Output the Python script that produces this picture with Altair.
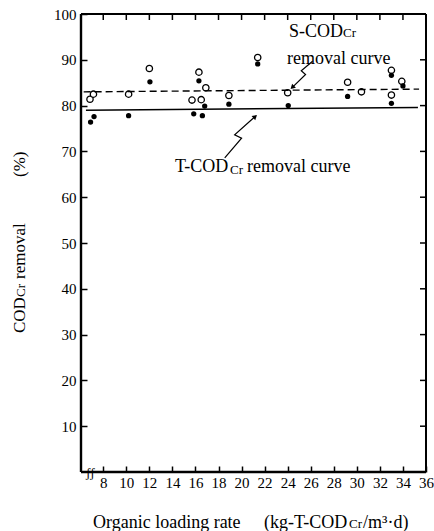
import altair as alt
import pandas as pd

# ---- data ----
s_x = [6.85, 7.15, 10.2, 12.0, 15.7, 16.3, 16.5, 16.9, 18.9, 21.4, 24.0, 29.2, 30.4, 33.0, 33.0, 33.9]
s_y = [81.4, 82.5, 82.5, 88.1, 81.2, 87.3, 81.3, 83.9, 82.2, 90.5, 82.8, 85.1, 83.0, 87.7, 82.3, 85.3]
t_x = [6.9, 7.2, 10.2, 12.05, 15.85, 16.3, 16.6, 16.8, 18.9, 21.4, 24.05, 29.2, 33.0, 33.0, 34.0]
t_y = [76.4, 77.6, 77.8, 85.2, 78.2, 85.4, 77.8, 79.9, 80.3, 89.1, 80.0, 82.0, 86.6, 80.5, 84.3]

s_curve_x = [6.3, 35.4]
s_curve_y = [83.0, 83.6]
t_curve_x = [6.5, 35.3]
t_curve_y = [79.0, 79.6]

# annotation arrows (data coordinates)
s_arrow_x = [26.16, 25.18, 25.55, 24.45]
s_arrow_y = [89.7, 87.6, 86.8, 84.1]
t_arrow_x = [18.54, 20.0, 19.4, 21.13]
t_arrow_y = [68.6, 72.9, 73.6, 77.5]

x_ticks = [8, 10, 12, 14, 16, 18, 20, 22, 24, 26, 28, 30, 32, 34, 36]
y_ticks = [10, 20, 30, 40, 50, 60, 70, 80, 90, 100]
y_inner_ticks = [10, 20, 30, 40, 50, 60, 70, 80, 90]

W, H = 345, 458
SERIF = "Liberation Serif"
TL = 6  # inward tick length

xs = alt.Scale(domain=[6.07, 36], nice=False, zero=False)
ys = alt.Scale(domain=[0, 100], nice=False, zero=False)

# axes drawn inward: axis line moved TL px inside, ticks point back to the frame
x_axis = alt.Axis(values=x_ticks, ticks=True, tickSize=TL, tickWidth=1.5, tickColor="black",
                  offset=-TL, grid=False, labelFont=SERIF, labelFontSize=15,
                  labelColor="black", labelPadding=3, domain=False, title=None,
                  labelFlush=False, labelOverlap=False)
y_axis = alt.Axis(values=y_ticks, ticks=True, tickSize=TL, tickWidth=1.5, tickColor="black",
                  offset=-TL, grid=False, labelFont=SERIF, labelFontSize=15,
                  labelColor="black", labelPadding=5, domain=False, title=None,
                  labelFlush=False, labelOverlap=False)

X = alt.X("x:Q", scale=xs, axis=x_axis, title=None)
Y = alt.Y("y:Q", scale=ys, axis=y_axis, title=None)

s_df = pd.DataFrame({"x": s_x, "y": s_y})
t_df = pd.DataFrame({"x": t_x, "y": t_y})

s_pts = alt.Chart(s_df).mark_point(
    shape="circle", filled=True, fill="white", stroke="black", strokeWidth=1.3, size=40, opacity=1
).encode(x=X, y=Y)

t_pts = alt.Chart(t_df).mark_circle(color="black", size=28, opacity=1).encode(x=X, y=Y)

s_line = alt.Chart(pd.DataFrame({"x": s_curve_x, "y": s_curve_y})).mark_line(
    color="black", strokeWidth=1.4, strokeDash=[7, 4]).encode(x=X, y=Y)
t_line = alt.Chart(pd.DataFrame({"x": t_curve_x, "y": t_curve_y})).mark_line(
    color="black", strokeWidth=1.5).encode(x=X, y=Y)

def arrow(ax, ay, ang):
    df = pd.DataFrame({"x": ax, "y": ay, "o": list(range(len(ax)))})
    ln = alt.Chart(df).mark_line(color="black", strokeWidth=1.2).encode(x=X, y=Y, order="o:Q")
    hd = alt.Chart(df.tail(1)).mark_point(shape="triangle", filled=True, color="black",
                                          size=30, angle=ang, opacity=1).encode(x=X, y=Y)
    return [ln, hd]

s_arr = arrow(s_arrow_x, s_arrow_y, 227)
t_arr = arrow(t_arrow_x, t_arrow_y, 48)

# inward ticks on the right and top sides
xt = pd.DataFrame({"x": x_ticks})
yt = pd.DataFrame({"y": y_inner_ticks})
tick_layers = [
    alt.Chart(yt).mark_rule(color="black", strokeWidth=1.5).encode(
        y=Y, x=alt.value(W - TL), x2=alt.value(W)),
    alt.Chart(xt).mark_rule(color="black", strokeWidth=1.5).encode(
        x=X, y=alt.value(0), y2=alt.value(TL)),
]

one = pd.DataFrame({"k": [0]})
frame = [
    alt.Chart(one).mark_rule(color="black", strokeWidth=2.4).encode(
        x=alt.value(0), y=alt.value(0), y2=alt.value(H)),
    alt.Chart(one).mark_rule(color="black", strokeWidth=2.4).encode(
        x=alt.value(0), x2=alt.value(W), y=alt.value(H)),
    alt.Chart(one).mark_rule(color="black", strokeWidth=2).encode(
        x=alt.value(0), x2=alt.value(W), y=alt.value(0)),
    alt.Chart(one).mark_rule(color="black", strokeWidth=2).encode(
        x=alt.value(W), y=alt.value(0), y2=alt.value(H)),
]

def txt(s, x, y, size=18, align="left", angle=0, baseline="alphabetic"):
    return alt.Chart(pd.DataFrame({"t": [s]})).mark_text(
        font=SERIF, fontSize=size, color="black", align=align, baseline=baseline, angle=angle
    ).encode(text="t:N", x=alt.value(x), y=alt.value(y))

texts = [
    # S-CODCr removal curve
    txt("S-COD", 208, 23), txt("Cr", 262, 23, size=13),
    txt("removal curve", 206, 50),
    # T-CODCr removal curve
    txt("T-COD", 94, 158), txt("Cr", 149, 160, size=13),
    txt("removal curve", 166, 158),
    # x title
    txt("Organic loading rate", 12, 514),
    txt("(kg-T-COD", 183, 514), txt("Cr", 268, 514, size=13), txt("/m³·d)", 282, 514),
    # y title
    txt("COD", -56, 319, size=17, angle=270), txt("Cr", -56, 283, size=13, angle=270),
    txt("removal", -56, 265, size=17, angle=270), txt("(%)", -56, 163, size=17, angle=270),
    # axis break mark
    txt("ʃʃ", 5, 463, size=13, align="left"),
]

chart = alt.layer(s_pts, t_pts, s_line, t_line, *s_arr, *t_arr, *tick_layers, *frame, *texts).properties(
    width=W, height=H,
    autosize=alt.AutoSizeParams(type="none"),
    padding={"left": 81, "top": 14, "right": 8, "bottom": 59},
    background="white",
).configure_view(stroke=None)

chart.save("out.html", embed_options={"renderer": "svg", "actions": False})
